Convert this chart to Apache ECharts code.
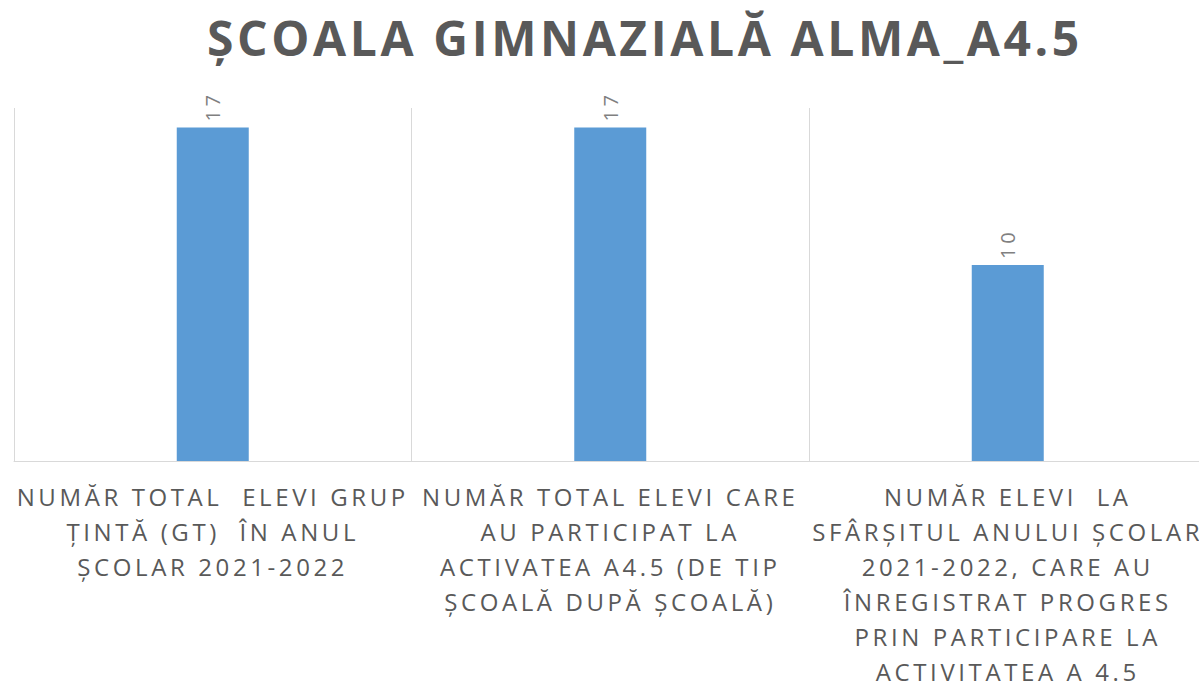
<!DOCTYPE html>
<html>
<head>
<meta charset="utf-8">
<script src="https://cdn.jsdelivr.net/npm/echarts@6/dist/echarts.min.js"></script>
<style>
  html, body { margin: 0; padding: 0; background: #fff; }
  #main { width: 1199px; height: 684px; }
  /* spatierea literelor ca in graficul original */
  #main svg text { letter-spacing: 3.6px; white-space: pre; }
</style>
</head>
<body>
<div id="main"></div>
<script>
// date grafic
var titlu = 'ȘCOALA GIMNAZIALĂ ALMA_A4.5';
var categorii = [
  'NUMĂR TOTAL  ELEVI GRUP\nȚINTĂ (GT)  ÎN ANUL\nȘCOLAR 2021-2022',
  'NUMĂR TOTAL ELEVI CARE\nAU PARTICIPAT LA\nACTIVATEA A4.5 (DE TIP\nȘCOALĂ DUPĂ ȘCOALĂ)',
  'NUMĂR ELEVI  LA\nSFÂRȘITUL ANULUI ȘCOLAR\n2021-2022, CARE AU\nÎNREGISTRAT PROGRES\nPRIN PARTICIPARE LA\nACTIVITATEA A 4.5'
];
var valori = [17, 17, 10];

var chart = echarts.init(document.getElementById('main'), null, { renderer: 'svg' });
chart.setOption({
  animation: false,
  title: {
    text: titlu,
    left: 640,
    top: 8,
    textAlign: 'center',
    textStyle: {
      fontFamily: 'Open Sans',
      fontWeight: 'bold',
      fontSize: 48,
      color: '#595959'
    }
  },
  grid: {
    left: 14,
    width: 1192.5,
    top: 108,
    bottom: 223,
    containLabel: false,
    outerBoundsMode: 'none'
  },
  xAxis: {
    type: 'category',
    data: categorii,
    axisLine: { show: true, lineStyle: { color: '#d9d9d9', width: 1 } },
    axisTick: { show: false },
    splitLine: { show: true, interval: 0, lineStyle: { color: '#d9d9d9', width: 1 } },
    axisLabel: {
      interval: 0,
      margin: 18,
      fontFamily: 'Open Sans',
      fontSize: 24,
      lineHeight: 35,
      color: '#595959',
      align: 'center'
    }
  },
  yAxis: {
    type: 'value',
    min: 0,
    max: 18,
    show: false,
    splitLine: { show: false }
  },
  series: [{
    type: 'bar',
    data: valori,
    barWidth: 72,
    itemStyle: { color: '#5b9bd5' },
    label: {
      show: true,
      position: 'top',
      rotate: 90,
      distance: 6,
      align: 'left',
      verticalAlign: 'middle',
      fontFamily: 'Open Sans',
      fontSize: 20,
      color: '#808080'
    }
  }]
});
</script>
</body>
</html>
